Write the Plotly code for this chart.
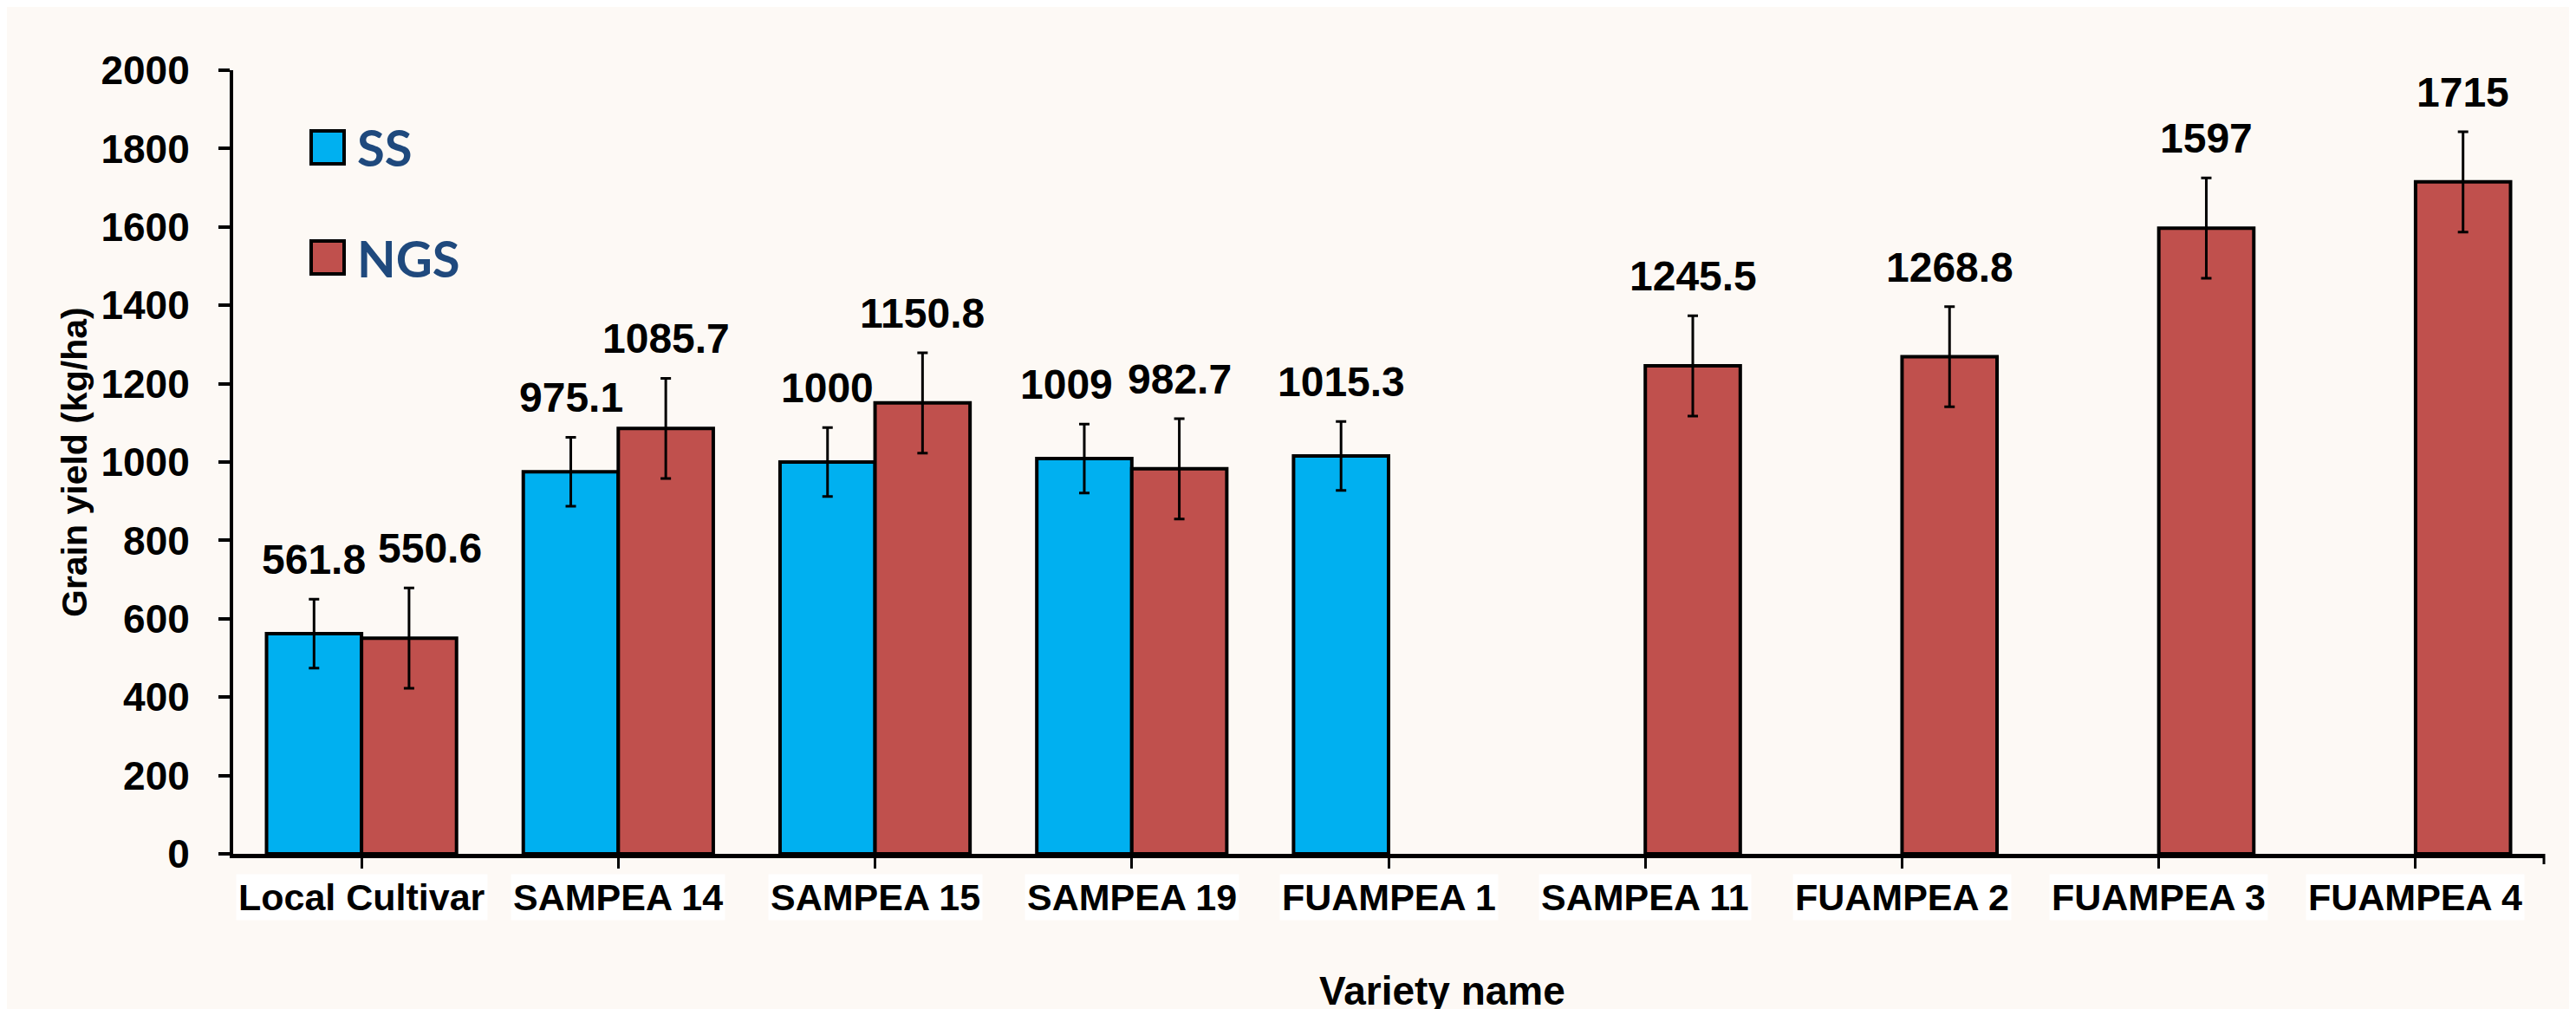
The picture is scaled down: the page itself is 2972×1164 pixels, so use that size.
import plotly.graph_objects as go

# ---- data ----
categories = ["Local Cultivar", "SAMPEA 14", "SAMPEA 15", "SAMPEA 19", "FUAMPEA 1",
              "SAMPEA 11", "FUAMPEA 2", "FUAMPEA 3", "FUAMPEA 4"]
ss_values = [561.8, 975.1, 1000, 1009, 1015.3, None, None, None, None]
ss_errors = [88, 88, 88, 88, 88, None, None, None, None]
ngs_values = [550.6, 1085.7, 1150.8, 982.7, None, 1245.5, 1268.8, 1597, 1715]
ngs_errors = [128, 128, 128, 128, None, 128, 128, 128, 128]
series_names = ["SS", "NGS"]
y_ticks = [0, 200, 400, 600, 800, 1000, 1200, 1400, 1600, 1800, 2000]

# ---- style ----
SS_COLOR = "#00B0F0"
NGS_COLOR = "#C0504D"
BG = "#FDF9F5"
FONT = "Liberation Sans, Arial, sans-serif"
LEG_FONT = "Lato, Open Sans, sans-serif"
BARGAP = 0.26
# horizontal nudges (px) of some value labels to avoid overlaps, as in the original
LABEL_NUDGE = {("SS", "SAMPEA 19"): -20, ("NGS", "Local Cultivar"): 24}

W, H = 2972, 1164
ML, MR, MT, MB = 261, 45, 73, 187
plot_w = W - ML - MR
plot_h = H - MT - MB
x_axis_px = H - MB


def py(px):
    """pixel row -> paper y"""
    return (x_axis_px - px) / plot_h


def px_(px):
    """pixel column -> paper x"""
    return (px - ML) / plot_w


fig = go.Figure()
for name, vals, errs, col in [(series_names[0], ss_values, ss_errors, SS_COLOR),
                              (series_names[1], ngs_values, ngs_errors, NGS_COLOR)]:
    fig.add_trace(go.Bar(
        name=name, x=categories, y=vals,
        marker=dict(color=col, line=dict(color="black", width=4)),
        error_y=dict(type="data", array=[e if e is not None else 0 for e in errs],
                     color="black", thickness=3, width=6, visible=True),
        showlegend=False,
    ))

annotations = []
# data labels above error bars
bar_w = (1 - BARGAP) / 2
for sname, offset, vals, errs in [(series_names[0], -bar_w / 2, ss_values, ss_errors),
                                  (series_names[1], bar_w / 2, ngs_values, ngs_errors)]:
    for i, (v, e) in enumerate(zip(vals, errs)):
        if v is None:
            continue
        annotations.append(dict(
            x=i + offset, y=v + e, xref="x", yref="y", text=f"{v:g}",
            showarrow=False, yanchor="bottom", yshift=17,
            xshift=LABEL_NUDGE.get((sname, categories[i]), 0),
            font=dict(family=FONT, size=48, color="black", weight="bold"),
        ))

# category labels with white boxes
for i, c in enumerate(categories):
    annotations.append(dict(
        x=i, y=py(1027), xref="x", yref="paper", text=c, showarrow=False,
        yanchor="middle", bgcolor="white", borderpad=2,
        font=dict(family=FONT, size=43, color="black", weight="bold"),
    ))

# axis titles
annotations.append(dict(
    x=px_(78), y=0.5, xref="paper", yref="paper", text="Grain yield (kg/ha)",
    showarrow=False, textangle=-90, xanchor="center", yanchor="middle",
    font=dict(family=FONT, size=41, color="black", weight="bold"),
))
annotations.append(dict(
    x=px_(1656), y=py(1163), xref="paper", yref="paper",
    text="Variety name", showarrow=False, xanchor="center", yanchor="bottom",
    font=dict(family=FONT, size=46, color="black", weight="bold"),
))

# custom legend
shapes = []
leg_items = [(series_names[0], SS_COLOR, 162), (series_names[1], NGS_COLOR, 289)]
for name, col, yc in leg_items:
    shapes.append(dict(type="rect", xref="paper", yref="paper",
                       x0=px_(351), x1=px_(389), y0=py(yc + 19), y1=py(yc - 19),
                       fillcolor=col, line=dict(color="black", width=4)))
    annotations.append(dict(
        x=px_(402), y=py(yc), xref="paper", yref="paper",
        text=name, showarrow=False, xanchor="left", yanchor="middle",
        font=dict(family=LEG_FONT, size=58, color="#1F497D", weight="bold"),
    ))

# closing tick at the right end of the x axis
shapes.append(dict(type="line", xref="paper", yref="paper", x0=1, x1=1,
                   y0=0, y1=-12 / plot_h, line=dict(color="black", width=3)))

fig.update_layout(
    width=W, height=H,
    margin=dict(l=ML, r=MR, t=MT, b=MB),
    paper_bgcolor=BG, plot_bgcolor=BG,
    barmode="group", bargap=BARGAP, bargroupgap=0,
    annotations=annotations, shapes=shapes,
    xaxis=dict(type="category", categoryorder="array", categoryarray=categories,
               range=[-0.5, len(categories) - 0.5], showline=True, linecolor="black",
               linewidth=5, ticks="outside", ticklen=12, tickwidth=3, tickcolor="black",
               showticklabels=False, showgrid=False, zeroline=False),
    yaxis=dict(range=[0, 2000], tickvals=y_ticks, showline=True, linecolor="black",
               linewidth=4, ticks="outside", ticklen=13, tickwidth=4, tickcolor="black",
               showgrid=False, zeroline=False, ticklabelstandoff=24,
               tickfont=dict(family=FONT, size=46, color="black", weight="bold")),
)

fig.write_html("out.html")
